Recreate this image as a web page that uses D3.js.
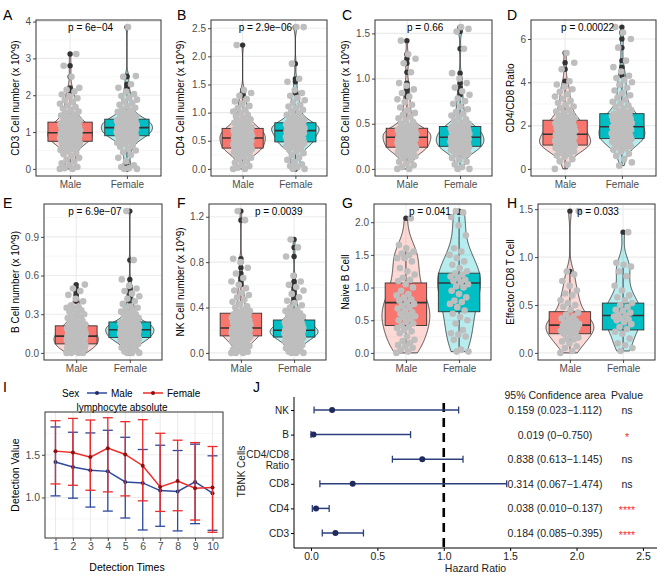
<!DOCTYPE html>
<html><head><meta charset="utf-8">
<script src="https://cdn.jsdelivr.net/npm/d3@7"></script>
<style>
body{margin:0;background:#fff}
svg{display:block}
text{font-family:"Liberation Sans",Arial,Helvetica,sans-serif}
</style>
</head><body>
<svg id="c" width="666" height="576"></svg>
<script>
// ---------------- DATA ----------------
const groups = ["Male", "Female"];

// A: CD3
const cd3Male = [0,0,0.02,0.05,0.1,0.15,0.2,0.25,0.3,0.35,0.4,0.44,0.48,0.51,0.54,0.57,0.6,0.62,0.64,0.66,0.68,0.7,0.71,0.73,0.74,
  0.75,0.76,0.77,0.78,0.79,0.8,0.81,0.82,0.83,0.84,0.85,0.86,0.87,0.88,0.89,0.9,0.91,0.92,0.93,0.94,0.95,0.96,0.96,0.97,0.98,
  0.99,1.0,1.01,1.02,1.04,1.05,1.06,1.07,1.09,1.1,1.11,1.12,1.14,1.15,1.16,1.17,1.19,1.2,1.21,1.22,1.23,1.24,1.25,1.26,1.27,
  1.29,1.31,1.33,1.36,1.39,1.42,1.45,1.48,1.52,1.56,1.6,1.64,1.68,1.72,1.77,1.82,1.87,1.92,1.97,2.02,2.1,2.15,2.2,2.5,2.8,3.12];
const cd3Female = [0,0,0.02,0.05,0.1,0.2,0.3,0.38,0.45,0.5,0.55,0.6,0.64,0.68,0.71,0.74,0.76,0.78,0.8,0.82,0.84,0.85,0.86,0.88,0.89,
  0.9,0.91,0.92,0.93,0.94,0.95,0.96,0.97,0.98,0.99,1.0,1.01,1.02,1.03,1.04,1.05,1.06,1.07,1.08,1.08,1.09,1.1,1.1,1.11,1.12,
  1.13,1.14,1.15,1.16,1.17,1.18,1.19,1.2,1.21,1.22,1.23,1.24,1.25,1.26,1.27,1.28,1.29,1.3,1.31,1.31,1.32,1.33,1.34,1.34,1.35,
  1.37,1.39,1.41,1.43,1.46,1.49,1.52,1.55,1.58,1.62,1.66,1.7,1.74,1.78,1.83,1.88,1.93,1.98,2.03,2.1,2.2,2.3,2.5,2.52,3.85];
const cd3Box = [[0, 0.75, 0.98, 1.27, 2.02], [0.3, 0.9, 1.12, 1.35, 2.03]];
const cd3Ticks = [0, 1, 2, 3, 4];

// B: CD4
const cd4Male = [0,0,0.02,0.05,0.08,0.11,0.14,0.17,0.2,0.22,0.24,0.26,0.28,0.29,0.3,0.31,0.32,0.33,0.33,0.34,0.34,0.35,0.35,0.36,0.36,
  0.37,0.38,0.39,0.4,0.4,0.41,0.42,0.43,0.44,0.44,0.45,0.46,0.47,0.48,0.48,0.49,0.5,0.5,0.51,0.52,0.52,0.53,0.54,0.54,0.55,
  0.56,0.56,0.57,0.58,0.58,0.59,0.6,0.6,0.61,0.62,0.62,0.63,0.64,0.65,0.65,0.66,0.67,0.67,0.68,0.69,0.69,0.7,0.7,0.71,0.72,
  0.73,0.74,0.75,0.77,0.78,0.8,0.82,0.84,0.86,0.88,0.9,0.93,0.96,0.99,1.02,1.05,1.08,1.12,1.16,1.2,1.24,1.3,1.35,1.4,2.2];
const cd4Female = [0,0,0.03,0.05,0.08,0.12,0.16,0.2,0.24,0.28,0.31,0.34,0.36,0.38,0.4,0.41,0.42,0.43,0.44,0.44,0.45,0.45,0.46,0.46,0.47,
  0.48,0.49,0.5,0.51,0.52,0.53,0.54,0.55,0.55,0.56,0.57,0.58,0.59,0.6,0.6,0.61,0.62,0.63,0.64,0.64,0.65,0.66,0.66,0.67,0.68,
  0.69,0.69,0.7,0.7,0.71,0.71,0.72,0.72,0.73,0.73,0.74,0.75,0.75,0.76,0.76,0.77,0.77,0.78,0.78,0.79,0.79,0.8,0.8,0.81,0.82,
  0.83,0.84,0.86,0.88,0.9,0.92,0.94,0.96,0.99,1.02,1.05,1.08,1.11,1.14,1.18,1.22,1.26,1.3,1.35,1.4,1.55,1.6,1.87,2.52,2.52];
const cd4Box = [[0, 0.37, 0.55, 0.72, 1.24], [0.03, 0.48, 0.68, 0.82, 1.3]];
const cd4Ticks = [0, 0.5, 1, 1.5, 2, 2.5];

// C: CD8
const cd8Male = [0,0,0.02,0.04,0.06,0.08,0.1,0.12,0.14,0.15,0.16,0.17,0.18,0.19,0.2,0.2,0.21,0.21,0.22,0.22,0.22,0.23,0.23,0.23,0.24,
  0.24,0.25,0.25,0.26,0.26,0.27,0.27,0.28,0.28,0.29,0.29,0.3,0.3,0.31,0.31,0.32,0.32,0.33,0.33,0.33,0.34,0.34,0.34,0.35,0.35,
  0.35,0.36,0.36,0.37,0.37,0.38,0.38,0.39,0.39,0.4,0.4,0.4,0.41,0.41,0.42,0.42,0.42,0.43,0.43,0.43,0.44,0.44,0.44,0.45,0.45,
  0.46,0.47,0.48,0.5,0.52,0.54,0.56,0.58,0.6,0.62,0.65,0.68,0.71,0.74,0.77,0.8,0.84,0.88,0.92,0.95,1.07,1.17,1.22,1.27,1.42];
const cd8Female = [0,0,0.02,0.05,0.08,0.1,0.12,0.14,0.16,0.17,0.18,0.19,0.2,0.2,0.21,0.21,0.22,0.22,0.23,0.23,0.23,0.24,0.24,0.24,0.25,
  0.25,0.26,0.26,0.27,0.27,0.28,0.28,0.29,0.29,0.3,0.3,0.31,0.31,0.31,0.32,0.32,0.32,0.33,0.33,0.33,0.34,0.34,0.34,0.35,0.35,
  0.36,0.36,0.37,0.37,0.38,0.38,0.39,0.39,0.4,0.4,0.41,0.41,0.42,0.42,0.43,0.43,0.44,0.44,0.45,0.45,0.45,0.46,0.46,0.47,0.47,
  0.48,0.49,0.5,0.51,0.53,0.55,0.57,0.59,0.61,0.63,0.66,0.69,0.72,0.75,0.78,0.82,0.86,0.9,0.95,1.0,1.06,1.33,1.52,1.55,1.57];
const cd8Box = [[0, 0.24, 0.35, 0.45, 0.77], [0, 0.25, 0.35, 0.47, 0.78]];
const cd8Ticks = [0, 0.5, 1, 1.5];

// D: CD4/CD8 ratio
const ratioMale = [0,0.2,0.35,0.45,0.55,0.62,0.68,0.74,0.8,0.84,0.88,0.91,0.94,0.96,0.98,1.0,1.02,1.03,1.04,1.05,1.06,1.07,1.08,1.09,1.1,
  1.12,1.14,1.16,1.18,1.2,1.22,1.24,1.26,1.28,1.3,1.32,1.34,1.36,1.38,1.4,1.42,1.44,1.46,1.48,1.5,1.52,1.54,1.56,1.58,1.6,
  1.62,1.65,1.68,1.7,1.73,1.76,1.78,1.81,1.84,1.86,1.89,1.92,1.94,1.97,2.0,2.03,2.06,2.08,2.11,2.14,2.16,2.19,2.21,2.23,2.25,
  2.3,2.35,2.4,2.46,2.52,2.58,2.65,2.72,2.8,2.88,2.96,3.05,3.14,3.24,3.34,3.45,3.56,3.68,3.8,3.9,4.05,4.6,4.9,5.35];
const ratioFemale = [0.15,0.3,0.45,0.6,0.7,0.8,0.88,0.95,1.0,1.05,1.1,1.14,1.18,1.21,1.24,1.27,1.29,1.31,1.33,1.34,1.35,1.36,1.37,1.38,1.39,
  1.41,1.43,1.45,1.48,1.5,1.52,1.54,1.57,1.59,1.61,1.64,1.66,1.68,1.7,1.73,1.75,1.77,1.8,1.82,1.84,1.86,1.88,1.9,1.93,1.95,
  1.97,2.0,2.02,2.05,2.07,2.1,2.12,2.15,2.17,2.2,2.22,2.25,2.27,2.3,2.32,2.35,2.37,2.4,2.42,2.44,2.46,2.48,2.5,2.52,2.55,
  2.6,2.66,2.72,2.79,2.86,2.94,3.02,3.1,3.2,3.3,3.4,3.5,3.62,3.75,3.88,4.0,4.1,4.2,4.3,4.5,4.7,5.0,5.6,6.0,6.3,6.55];
const ratioBox = [[0, 1.1, 1.6, 2.25, 3.9], [0.15, 1.4, 1.95, 2.55, 4.2]];
const ratioTicks = [0, 2, 4, 6];

// E: B cell
const bMale = [0,0,0,0,0.01,0.01,0.02,0.02,0.03,0.03,0.03,0.04,0.04,0.04,0.05,0.05,0.05,0.05,0.06,0.06,0.06,0.06,0.06,0.07,0.07,
  0.07,0.08,0.08,0.08,0.09,0.09,0.09,0.09,0.1,0.1,0.1,0.1,0.11,0.11,0.11,0.11,0.12,0.12,0.12,0.12,0.12,0.13,0.13,0.13,0.13,
  0.13,0.14,0.14,0.14,0.15,0.15,0.15,0.16,0.16,0.16,0.17,0.17,0.17,0.18,0.18,0.18,0.19,0.19,0.19,0.2,0.2,0.2,0.21,0.21,0.21,
  0.22,0.22,0.23,0.24,0.25,0.26,0.27,0.28,0.29,0.3,0.31,0.32,0.33,0.34,0.35,0.36,0.37,0.4,0.42,0.45,0.48,0.5,0.53];
const bFemale = [0,0,0,0.01,0.02,0.03,0.04,0.05,0.06,0.07,0.08,0.08,0.09,0.09,0.1,0.1,0.1,0.1,0.11,0.11,0.11,0.11,0.11,0.12,0.12,
  0.12,0.13,0.13,0.13,0.14,0.14,0.14,0.14,0.15,0.15,0.15,0.15,0.16,0.16,0.16,0.16,0.17,0.17,0.17,0.17,0.17,0.18,0.18,0.18,0.18,
  0.18,0.19,0.19,0.19,0.19,0.2,0.2,0.2,0.2,0.21,0.21,0.21,0.21,0.22,0.22,0.22,0.22,0.23,0.23,0.23,0.23,0.24,0.24,0.24,0.24,
  0.25,0.26,0.27,0.28,0.29,0.3,0.31,0.32,0.33,0.34,0.35,0.36,0.38,0.4,0.42,0.44,0.46,0.48,0.5,0.52,0.57,0.72,1.1];
const bBox = [[0, 0.07, 0.13, 0.21, 0.37], [0.02, 0.12, 0.18, 0.24, 0.38]];
const bTicks = [0, 0.3, 0.6, 0.9];

// F: NK
const nkMale = [0,0,0,0.01,0.02,0.03,0.04,0.05,0.06,0.07,0.08,0.09,0.1,0.1,0.11,0.11,0.12,0.12,0.13,0.13,0.13,0.14,0.14,0.14,0.15,
  0.15,0.15,0.16,0.16,0.16,0.17,0.17,0.17,0.18,0.18,0.18,0.18,0.19,0.19,0.19,0.19,0.2,0.2,0.2,0.2,0.21,0.21,0.21,0.22,0.22,
  0.22,0.23,0.23,0.24,0.24,0.25,0.25,0.26,0.26,0.27,0.27,0.28,0.28,0.29,0.29,0.3,0.3,0.31,0.31,0.32,0.32,0.33,0.33,0.34,0.35,
  0.36,0.37,0.38,0.4,0.41,0.43,0.45,0.47,0.49,0.51,0.53,0.55,0.57,0.6,0.63,0.66,0.7,0.75,0.8,0.83,1.17,1.25];
const nkFemale = [0,0,0,0.01,0.02,0.03,0.04,0.05,0.06,0.07,0.08,0.09,0.09,0.1,0.1,0.11,0.11,0.12,0.12,0.12,0.13,0.13,0.13,0.14,0.14,
  0.14,0.15,0.15,0.15,0.16,0.16,0.16,0.16,0.17,0.17,0.17,0.17,0.18,0.18,0.18,0.18,0.19,0.19,0.19,0.19,0.19,0.2,0.2,0.2,0.2,
  0.2,0.21,0.21,0.21,0.22,0.22,0.22,0.23,0.23,0.23,0.24,0.24,0.24,0.25,0.25,0.25,0.26,0.26,0.26,0.27,0.27,0.27,0.28,0.28,0.29,
  0.3,0.31,0.32,0.33,0.34,0.35,0.36,0.37,0.38,0.4,0.42,0.44,0.46,0.49,0.52,0.55,0.58,0.6,0.63,0.68,0.85,0.93,1.0];
const nkBox = [[0, 0.15, 0.22, 0.35, 0.57], [0, 0.14, 0.2, 0.29, 0.42]];
const nkTicks = [0, 0.4, 0.8, 1.2];

// G: Naive B cell
const naiveBMale = [0.0,0.02,0.05,0.08,0.1,0.12,0.15,0.18,0.2,0.25,0.3,0.33,0.35,0.38,0.4,0.42,0.45,0.48,0.5,0.52,0.55,0.56,0.58,0.6,0.62,0.65,0.68,0.7,0.72,0.75,0.77,0.8,0.82,0.85,0.88,0.9,0.95,1.0,1.05,1.1,1.12,1.15,1.2,1.25,1.3,1.4,1.45,1.45,1.5,1.52,1.55,1.6,1.65,2.06];
const naiveBFemale = [0.02,0.02,0.05,0.2,0.25,0.28,0.3,0.35,0.45,0.5,0.55,0.6,0.65,0.7,0.75,0.78,0.8,0.85,0.9,0.95,1.0,1.02,1.05,1.08,1.1,1.12,1.15,1.17,1.2,1.22,1.25,1.3,1.35,1.4,1.45,1.5,1.55,1.6,1.8,1.95,2.08,2.15,2.17];
const naiveBBox = [[0, 0.42, 0.77, 1.07, 1.65], [0.02, 0.63, 1.07, 1.22, 2.08]];
const naiveBTicks = [0, 0.5, 1, 1.5, 2];

// H: Effector CD8 T cell
const effMale = [0.0,0.02,0.05,0.07,0.1,0.12,0.14,0.15,0.16,0.18,0.2,0.21,0.22,0.23,0.24,0.25,0.26,0.27,0.28,0.29,0.3,0.3,0.31,0.32,0.33,0.35,0.36,0.38,0.4,0.42,0.45,0.48,0.5,0.52,0.55,0.6,0.62,0.65,0.7,0.75,0.82,0.85,1.48];
const effFemale = [0.02,0.05,0.08,0.1,0.15,0.2,0.22,0.25,0.27,0.3,0.32,0.34,0.35,0.36,0.38,0.39,0.4,0.42,0.44,0.45,0.48,0.5,0.52,0.55,0.58,0.6,0.65,0.7,0.8,0.85,0.9,0.92,0.94,1.26];
const effBox = [[0, 0.2, 0.29, 0.43, 0.82], [0.02, 0.24, 0.39, 0.52, 0.94]];
const effTicks = [0, 0.5, 1, 1.5];

const pValues = ["p = 6e\u221204", "p = 2.9e\u221206", "p = 0.66", "p = 0.00022", "p = 6.9e\u221207", "p = 0.0039", "p = 0.041", "p = 0.033"];

// I: lymphocyte absolute over detection times
const detectionTimes = [1, 2, 3, 4, 5, 6, 7, 8, 9, 10];
const maleMean  = [1.415, 1.357, 1.318, 1.306, 1.182, 1.171, 1.081, 1.070, 1.182, 1.050];
const maleUpper = [1.826, 1.764, 1.756, 1.787, 1.705, 1.562, 1.612, 1.550, 1.624, 1.488];
const maleLower = [1.019, 0.992, 0.888, 0.841, 0.760, 0.620, 0.663, 0.609, 0.694, 0.616];
const femaleMean  = [1.543, 1.527, 1.473, 1.578, 1.504, 1.372, 1.124, 1.194, 1.109, 1.116];
const femaleUpper = [1.899, 1.926, 1.907, 1.934, 1.888, 1.911, 1.752, 1.671, 1.643, 1.597];
const femaleLower = [1.159, 1.143, 1.085, 1.066, 1.019, 0.961, 0.837, 0.845, 0.736, 0.593];
const lymphTicks = [1.0, 1.5];

// J: forest plot
const forestCells = ["NK", "B", "CD4/CD8 Ratio", "CD8", "CD4", "CD3"];
const forestHR   = [0.159, 0.019, 0.838, 0.314, 0.038, 0.184];
const forestLow  = [0.023, 0, 0.613, 0.067, 0.010, 0.085];
const forestHigh = [1.112, 0.750, 1.145, 1.474, 0.137, 0.395];
const forestP    = ["ns", "*", "ns", "ns", "****", "****"];
const forestTicks = [0, 0.5, 1, 1.5, 2, 2.5];

// ---------------- STYLE / LAYOUT ----------------
const groupFill = ["#F8766D", "#00BFC4"];
const pointGray = "#BEBEBE";
const dark = "#333333";
const tickText = "#4D4D4D";
const svg = d3.select("#c");

const violinPanels = [
  {letter:"A", title:"CD3 Cell number (x 10^9)", vals:[cd3Male, cd3Female], box:cd3Box, ticks:cd3Ticks, fmt:"d", p:pValues[0], frame:[36,161,20,176], titleX:15, letterX:3, letterY:20, pdx:-2},
  {letter:"B", title:"CD4 Cell number (x 10^9)", vals:[cd4Male, cd4Female], box:cd4Box, ticks:cd4Ticks, fmt:".1f", p:pValues[1], frame:[211,327,20,176], titleX:180, letterX:177, letterY:20, pdx:-4},
  {letter:"C", title:"CD8 Cell number (x 10^9)", vals:[cd8Male, cd8Female], box:cd8Box, ticks:cd8Ticks, fmt:".1f", p:pValues[2], frame:[375,492,20,176], titleX:345, letterX:342, letterY:20, pdx:0},
  {letter:"D", title:"CD4/CD8 Ratio", vals:[ratioMale, ratioFemale], box:ratioBox, ticks:ratioTicks, fmt:"d", p:pValues[3], frame:[531,656,20,176], titleX:510, letterX:507, letterY:20, pdx:-4},
  {letter:"E", title:"B Cell number (x 10^9)", vals:[bMale, bFemale], box:bBox, ticks:bTicks, fmt:".1f", p:pValues[4], frame:[44,162,204,360], titleX:15, letterX:3, letterY:208, pdx:-8},
  {letter:"F", title:"NK Cell number (x 10^9)", vals:[nkMale, nkFemale], box:nkBox, ticks:nkTicks, fmt:".1f", p:pValues[5], frame:[209,326,204,360], titleX:180, letterX:177, letterY:208, pdx:14},
  {letter:"G", title:"Naive B Cell", vals:[naiveBMale, naiveBFemale], box:naiveBBox, ticks:naiveBTicks, fmt:".1f", p:pValues[6], frame:[374,491,204,360], titleX:345, letterX:342, letterY:208, pdx:3},
  {letter:"H", title:"Effector CD8 T Cell", vals:[effMale, effFemale], box:effBox, ticks:effTicks, fmt:".1f", p:pValues[7], frame:[538,655,204,360], titleX:510, letterX:507, letterY:208, pdx:7}
];

function kde(vals) {
  const s = vals.slice().sort(d3.ascending);
  const n = s.length;
  const sd = d3.deviation(s);
  const iqr = d3.quantile(s, 0.75) - d3.quantile(s, 0.25);
  let h = 0.9 * Math.min(sd, iqr / 1.34 || sd) * Math.pow(n, -0.2);
  if (!(h > 0)) h = 0.05;
  const lo = s[0], hi = s[n - 1];
  const grid = d3.range(0, 257).map(i => lo + (hi - lo) * i / 256);
  return grid.map(y => [y, d3.mean(s, v => Math.exp(-0.5 * ((y - v) / h) ** 2)) / (h * Math.sqrt(2 * Math.PI))]);
}

function styleAxis(sel, fs) {
  sel.select(".domain").remove();
  sel.selectAll(".tick line").attr("stroke", dark).attr("stroke-width", 0.9);
  sel.selectAll(".tick text").attr("fill", tickText).style("font-size", fs + "px")
     .style("font-family", '"Liberation Sans",Arial,sans-serif');
}

function drawViolinPanel(cfg) {
  const [x0, x1, y0, y1] = cfg.frame;
  const all = cfg.vals[0].concat(cfg.vals[1]);
  const vmin = d3.min(all), vmax = d3.max(all), pad = (vmax - vmin) * 0.05;
  const y = d3.scaleLinear().domain([vmin - pad, vmax + pad]).range([y1, y0]);
  const x = d3.scaleLinear().domain([0.4, 2.6]).range([x0, x1]);
  const unit = x(2) - x(1);
  const g = svg.append("g");
  const dom = y.domain();
  const t = cfg.ticks, step = t[1] - t[0];
  const minors = [t[0] - step / 2].concat(t.map(v => v + step / 2)).filter(v => v > dom[0] && v < dom[1]);

  g.append("rect").attr("x", x0).attr("y", y0).attr("width", x1 - x0).attr("height", y1 - y0).attr("fill", "#fff");
  g.selectAll("line.mn").data(minors).join("line").attr("class", "mn")
    .attr("x1", x0).attr("x2", x1).attr("y1", d => y(d)).attr("y2", d => y(d))
    .attr("stroke", "#F2F2F2").attr("stroke-width", 0.6);
  g.selectAll("line.mj").data(t).join("line").attr("class", "mj")
    .attr("x1", x0).attr("x2", x1).attr("y1", d => y(d)).attr("y2", d => y(d))
    .attr("stroke", "#EBEBEB").attr("stroke-width", 1.1);
  g.selectAll("line.vj").data([1, 2]).join("line").attr("class", "vj")
    .attr("x1", d => x(d)).attr("x2", d => x(d)).attr("y1", y0).attr("y2", y1)
    .attr("stroke", "#EBEBEB").attr("stroke-width", 1.1);

  const dens = cfg.vals.map(v => kde(v));
  const maxD = d3.max(dens, d => d3.max(d, p => p[1]));
  dens.forEach((d, i) => {
    const cx = x(i + 1);
    const w = p => p[1] / maxD * 0.45 * unit;
    g.append("path").datum(d)
      .attr("d", d3.area().y(p => y(p[0])).x0(p => cx - w(p)).x1(p => cx + w(p)))
      .attr("fill", groupFill[i]).attr("fill-opacity", 0.28)
      .attr("stroke", "#1a1a1a").attr("stroke-width", 0.75);
  });

  cfg.box.forEach((b, i) => {
    const [lo, q1, med, q3, hi] = b;
    const cx = x(i + 1), hw = 0.39 * unit;
    g.append("line").attr("x1", cx).attr("x2", cx).attr("y1", y(q3)).attr("y2", y(hi)).attr("stroke", dark).attr("stroke-width", 0.9);
    g.append("line").attr("x1", cx).attr("x2", cx).attr("y1", y(q1)).attr("y2", y(lo)).attr("stroke", dark).attr("stroke-width", 0.9);
    g.append("rect").attr("x", cx - hw).attr("y", y(q3)).attr("width", 2 * hw).attr("height", y(q1) - y(q3))
      .attr("fill", groupFill[i]).attr("stroke", dark).attr("stroke-width", 0.9);
    g.append("line").attr("x1", cx - hw).attr("x2", cx + hw).attr("y1", y(med)).attr("y2", y(med))
      .attr("stroke", dark).attr("stroke-width", 1.6);
    const outl = cfg.vals[i].filter(v => v > hi || v < lo);
    g.selectAll(null).data(outl).join("circle")
      .attr("cx", cx).attr("cy", d => y(d)).attr("r", 2.7).attr("fill", dark);
  });

  cfg.vals.forEach((vals, i) => {
    g.selectAll(null).data(vals).join("circle")
      .attr("cx", (d, k) => x(i + 1 + ((((k * 0.618034) + 0.37 * i) % 1) - 0.5) * 0.36))
      .attr("cy", d => y(d)).attr("r", 3.3).attr("fill", pointGray);
  });

  g.append("rect").attr("x", x0).attr("y", y0).attr("width", x1 - x0).attr("height", y1 - y0)
    .attr("fill", "none").attr("stroke", dark).attr("stroke-width", 1);

  const ya = g.append("g").attr("transform", `translate(${x0},0)`)
    .call(d3.axisLeft(y).tickValues(t).tickFormat(d3.format(cfg.fmt)).tickSize(3).tickPadding(2));
  styleAxis(ya, 10);
  const xa = g.append("g").attr("transform", `translate(0,${y1})`)
    .call(d3.axisBottom(x).tickValues([1, 2]).tickFormat(d => groups[d - 1]).tickSize(3).tickPadding(2));
  styleAxis(xa, 10);

  g.append("text").attr("transform", `translate(${cfg.titleX},${(y0 + y1) / 2}) rotate(-90)`)
    .attr("text-anchor", "middle").attr("dominant-baseline", "central")
    .style("font-size", "10px").attr("fill", "#000").text(cfg.title);
  g.append("text").attr("x", x(1) + cfg.pdx).attr("y", y(vmax)).attr("dominant-baseline", "central")
    .style("font-size", "10px").attr("fill", "#000").text(cfg.p);
  g.append("text").attr("x", cfg.letterX).attr("y", cfg.letterY).style("font-size", "14px").attr("fill", "#000").text(cfg.letter);
}

violinPanels.forEach(drawViolinPanel);

// ---------------- Panel I ----------------
(function () {
  const x0 = 45, x1 = 223, y0 = 412, y1 = 538;
  const blue = "#2E4A9E", red = "#EE2A2A";
  const lo = d3.min(maleLower.concat(femaleLower)), hi = d3.max(maleUpper.concat(femaleUpper));
  const pad = (hi - lo) * 0.05;
  const y = d3.scaleLinear().domain([lo - pad, hi + pad]).range([y1, y0]);
  const x = d3.scaleLinear().domain([0.4, 10.6]).range([x0, x1]);
  const g = svg.append("g");
  g.append("rect").attr("x", x0).attr("y", y0).attr("width", x1 - x0).attr("height", y1 - y0).attr("fill", "#fff");
  const minors = [0.75, 1.25, 1.75];
  g.selectAll("line.mn").data(minors).join("line").attr("class", "mn")
    .attr("x1", x0).attr("x2", x1).attr("y1", d => y(d)).attr("y2", d => y(d)).attr("stroke", "#F2F2F2").attr("stroke-width", 0.6);
  g.selectAll("line.mj").data(lymphTicks).join("line").attr("class", "mj")
    .attr("x1", x0).attr("x2", x1).attr("y1", d => y(d)).attr("y2", d => y(d)).attr("stroke", "#EBEBEB").attr("stroke-width", 1.1);
  g.selectAll("line.vj").data(detectionTimes).join("line").attr("class", "vj")
    .attr("x1", d => x(d)).attr("x2", d => x(d)).attr("y1", y0).attr("y2", y1).attr("stroke", "#EBEBEB").attr("stroke-width", 1.1);

  const series = [
    {mean: maleMean, up: maleUpper, low: maleLower, col: blue, pt: "#1F2F6B"},
    {mean: femaleMean, up: femaleUpper, low: femaleLower, col: red, pt: "#8B1010"}
  ];
  series.forEach(s => {
    const sg = g.append("g");
    detectionTimes.forEach((tm, i) => {
      sg.append("line").attr("x1", x(tm)).attr("x2", x(tm)).attr("y1", y(s.low[i])).attr("y2", y(s.up[i])).attr("stroke", s.col).attr("stroke-width", 1.3);
      [s.low[i], s.up[i]].forEach(v => sg.append("line").attr("x1", x(tm) - 5).attr("x2", x(tm) + 5)
        .attr("y1", y(v)).attr("y2", y(v)).attr("stroke", s.col).attr("stroke-width", 1.3));
    });
    sg.append("path").datum(detectionTimes.map((tm, i) => [tm, s.mean[i]]))
      .attr("d", d3.line().x(d => x(d[0])).y(d => y(d[1]))).attr("fill", "none").attr("stroke", s.col).attr("stroke-width", 1.5);
    sg.selectAll(null).data(detectionTimes.map((tm, i) => [tm, s.mean[i]])).join("circle")
      .attr("cx", d => x(d[0])).attr("cy", d => y(d[1])).attr("r", 2).attr("fill", s.pt);
  });
  g.append("rect").attr("x", x0).attr("y", y0).attr("width", x1 - x0).attr("height", y1 - y0)
    .attr("fill", "none").attr("stroke", dark).attr("stroke-width", 1);
  const ya = g.append("g").attr("transform", `translate(${x0},0)`)
    .call(d3.axisLeft(y).tickValues(lymphTicks).tickFormat(d3.format(".1f")).tickSize(3).tickPadding(2));
  styleAxis(ya, 10.5);
  const xa = g.append("g").attr("transform", `translate(0,${y1})`)
    .call(d3.axisBottom(x).tickValues(detectionTimes).tickFormat(d3.format("d")).tickSize(3).tickPadding(2));
  styleAxis(xa, 10.5);
  g.append("text").attr("x", 127).attr("y", 567).attr("text-anchor", "middle").attr("dominant-baseline", "central")
    .style("font-size", "10.5px").text("Detection Times");
  g.append("text").attr("transform", `translate(15,${(y0 + y1) / 2}) rotate(-90)`).attr("text-anchor", "middle")
    .attr("dominant-baseline", "central").style("font-size", "10.5px").text("Detection Value");
  g.append("text").attr("x", 122).attr("y", 407).attr("text-anchor", "middle").attr("dominant-baseline", "central")
    .style("font-size", "10px").text("lymphocyte absolute");
  const ly = 393;
  g.append("text").attr("x", 62).attr("y", ly).attr("dominant-baseline", "central").style("font-size", "10px").text("Sex");
  const leg = [{x: 87, col: blue, pt: "#1F2F6B", lab: groups[0]}, {x: 143, col: red, pt: "#8B1010", lab: groups[1]}];
  leg.forEach(l => {
    g.append("line").attr("x1", l.x).attr("x2", l.x + 20).attr("y1", ly).attr("y2", ly).attr("stroke", l.col).attr("stroke-width", 1.5);
    g.append("circle").attr("cx", l.x + 10).attr("cy", ly).attr("r", 2).attr("fill", l.pt);
    g.append("text").attr("x", l.x + 24).attr("y", ly).attr("dominant-baseline", "central").style("font-size", "10px").text(l.lab);
  });
  g.append("text").attr("x", 3).attr("y", 392).style("font-size", "14px").text("I");
})();

// ---------------- Panel J ----------------
(function () {
  const x0 = 294, x1 = 657, yTop = 397, yAxis = 548;
  const navy = "#2D3F7B";
  const x = d3.scaleLinear().domain([-0.128, 2.606]).range([x0, x1]);
  const y = d3.scalePoint().domain(forestCells).range([410, 533]);
  const g = svg.append("g");
  g.append("line").attr("x1", x(1)).attr("x2", x(1)).attr("y1", 403).attr("y2", yAxis)
    .attr("stroke", "#000").attr("stroke-width", 2.6).attr("stroke-dasharray", "9,6");
  forestCells.forEach((c, i) => {
    const cy = y(c);
    g.append("line").attr("x1", x(forestLow[i])).attr("x2", x(forestHigh[i])).attr("y1", cy).attr("y2", cy).attr("stroke", navy).attr("stroke-width", 1.5);
    [forestLow[i], forestHigh[i]].forEach(v => g.append("line").attr("x1", x(v)).attr("x2", x(v))
      .attr("y1", cy - 3.5).attr("y2", cy + 3.5).attr("stroke", navy).attr("stroke-width", 1.3));
    g.append("circle").attr("cx", x(forestHR[i])).attr("cy", cy).attr("r", 3).attr("fill", "#1E2B5C");
  });
  g.append("line").attr("x1", x0).attr("x2", x1).attr("y1", yAxis).attr("y2", yAxis).attr("stroke", "#000").attr("stroke-width", 1);
  g.append("line").attr("x1", x0).attr("x2", x0).attr("y1", yTop).attr("y2", yAxis).attr("stroke", "#000").attr("stroke-width", 1);
  const xa = g.append("g").attr("transform", `translate(0,${yAxis})`)
    .call(d3.axisBottom(x).tickValues(forestTicks).tickFormat(d3.format(".1f")).tickSize(3).tickPadding(2));
  xa.select(".domain").remove();
  xa.selectAll(".tick line").attr("stroke", "#000");
  xa.selectAll(".tick text").attr("fill", "#222").style("font-size", "10.5px");
  const ya = g.append("g").attr("transform", `translate(${x0},0)`)
    .call(d3.axisLeft(y).tickSize(3).tickFormat(""));
  ya.select(".domain").remove();
  ya.selectAll(".tick line").attr("stroke", "#000");
  forestCells.forEach(c => {
    const parts = c === "CD4/CD8 Ratio" ? ["CD4/CD8", "Ratio"] : [c];
    const t = g.append("text").attr("text-anchor", "end").style("font-size", "10px").attr("fill", "#222");
    parts.forEach((p, k) => t.append("tspan").attr("x", 289).attr("y", y(c) + (parts.length === 1 ? 0 : (k === 0 ? -5 : 6)))
      .attr("dominant-baseline", "central").text(p));
  });
  const f3 = d3.format(".3f");
  const fmtV = v => v === 0 ? "0" : f3(v);
  g.append("text").attr("x", 555).attr("y", 395).attr("text-anchor", "middle").attr("dominant-baseline", "central")
    .style("font-size", "10.5px").attr("fill", "#222").text("95% Confidence area");
  g.append("text").attr("x", 627).attr("y", 395).attr("text-anchor", "middle").attr("dominant-baseline", "central")
    .style("font-size", "10.5px").attr("fill", "#222").text("Pvalue");
  forestCells.forEach((c, i) => {
    g.append("text").attr("x", 555).attr("y", y(c)).attr("text-anchor", "middle").attr("dominant-baseline", "central")
      .style("font-size", "10.5px").attr("fill", "#222")
      .text(`${f3(forestHR[i])} (${fmtV(forestLow[i])}\u2212${fmtV(forestHigh[i])})`);
    const star = forestP[i] !== "ns";
    g.append("text").attr("x", 627).attr("y", y(c) + (star ? 2 : 0)).attr("text-anchor", "middle").attr("dominant-baseline", "central")
      .style("font-size", "10.5px").attr("fill", star ? "#FF2B2B" : "#222").text(forestP[i]);
  });
  g.append("text").attr("x", (x0 + x1) / 2).attr("y", 568).attr("text-anchor", "middle").attr("dominant-baseline", "central")
    .style("font-size", "10.5px").attr("fill", "#222").text("Hazard Ratio");
  g.append("text").attr("transform", `translate(241,${(410 + 533) / 2}) rotate(-90)`).attr("text-anchor", "middle")
    .attr("dominant-baseline", "central").style("font-size", "10px").attr("fill", "#222").text("TBNK Cells");
  g.append("text").attr("x", 253).attr("y", 392).style("font-size", "14px").text("J");
})();
</script>
</body></html>
